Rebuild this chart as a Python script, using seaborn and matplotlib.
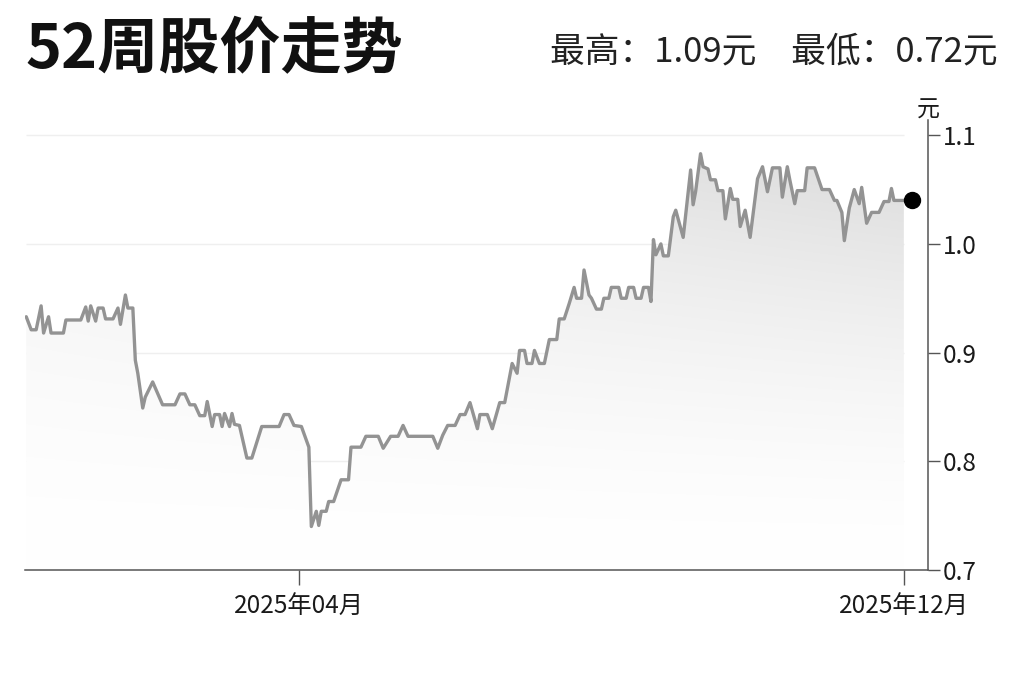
import matplotlib
matplotlib.use("Agg")
import matplotlib.pyplot as plt
import matplotlib.dates as mdates
from matplotlib.transforms import offset_copy
import numpy as np
import pandas as pd
import seaborn as sns

# turning points of the daily closing price
dates = [
    "2024-12-12", "2024-12-14", "2024-12-16", "2024-12-18", "2024-12-19", "2024-12-21",
    "2024-12-22", "2024-12-27", "2024-12-28", "2025-01-03", "2025-01-05", "2025-01-06",
    "2025-01-07", "2025-01-09", "2025-01-10", "2025-01-12", "2025-01-13", "2025-01-16",
    "2025-01-18", "2025-01-19", "2025-01-21", "2025-01-22", "2025-01-24", "2025-01-25",
    "2025-01-26", "2025-01-28", "2025-01-29", "2025-02-01", "2025-02-05", "2025-02-10",
    "2025-02-12", "2025-02-14", "2025-02-16", "2025-02-18", "2025-02-20", "2025-02-22",
    "2025-02-23", "2025-02-25", "2025-02-26", "2025-02-28", "2025-03-01", "2025-03-02",
    "2025-03-04", "2025-03-05", "2025-03-06", "2025-03-08", "2025-03-11", "2025-03-13",
    "2025-03-17", "2025-03-24", "2025-03-26", "2025-03-28", "2025-03-30", "2025-04-02",
    "2025-04-05", "2025-04-06", "2025-04-08", "2025-04-09", "2025-04-10", "2025-04-12",
    "2025-04-13", "2025-04-15", "2025-04-18", "2025-04-21", "2025-04-22", "2025-04-26",
    "2025-04-28", "2025-05-03", "2025-05-05", "2025-05-08", "2025-05-11", "2025-05-13",
    "2025-05-15", "2025-05-25", "2025-05-27", "2025-05-29", "2025-05-31", "2025-06-03",
    "2025-06-05", "2025-06-07", "2025-06-09", "2025-06-12", "2025-06-13", "2025-06-16",
    "2025-06-18", "2025-06-21", "2025-06-23", "2025-06-24", "2025-06-26", "2025-06-28",
    "2025-06-29", "2025-07-01", "2025-07-02", "2025-07-04", "2025-07-05", "2025-07-07",
    "2025-07-09", "2025-07-11", "2025-07-14", "2025-07-15", "2025-07-17", "2025-07-19",
    "2025-07-21", "2025-07-22", "2025-07-24", "2025-07-25", "2025-07-27", "2025-07-28",
    "2025-07-30", "2025-08-01", "2025-08-02", "2025-08-04", "2025-08-05", "2025-08-08",
    "2025-08-09", "2025-08-11", "2025-08-12", "2025-08-14", "2025-08-15", "2025-08-17",
    "2025-08-18", "2025-08-20", "2025-08-21", "2025-08-22", "2025-08-23", "2025-08-25",
    "2025-08-26", "2025-08-28", "2025-08-30", "2025-08-31", "2025-09-03", "2025-09-06",
    "2025-09-07", "2025-09-08", "2025-09-10", "2025-09-11", "2025-09-13", "2025-09-14",
    "2025-09-16", "2025-09-17", "2025-09-19", "2025-09-20", "2025-09-22", "2025-09-23",
    "2025-09-25", "2025-09-26", "2025-09-28", "2025-09-30", "2025-10-03", "2025-10-05",
    "2025-10-07", "2025-10-09", "2025-10-12", "2025-10-13", "2025-10-15", "2025-10-16",
    "2025-10-18", "2025-10-19", "2025-10-22", "2025-10-23", "2025-10-26", "2025-10-29",
    "2025-11-01", "2025-11-03", "2025-11-04", "2025-11-06", "2025-11-07", "2025-11-09",
    "2025-11-11", "2025-11-13", "2025-11-14", "2025-11-16", "2025-11-18", "2025-11-21",
    "2025-11-23", "2025-11-25", "2025-11-26", "2025-11-27", "2025-12-01",
]
prices = [
    0.933, 0.921, 0.921, 0.943, 0.918, 0.933,
    0.918, 0.918, 0.930, 0.930, 0.942, 0.929,
    0.943, 0.929, 0.941, 0.941, 0.931, 0.931,
    0.941, 0.926, 0.953, 0.941, 0.941, 0.893,
    0.881, 0.849, 0.859, 0.873, 0.852, 0.852,
    0.862, 0.862, 0.852, 0.852, 0.842, 0.842,
    0.855, 0.832, 0.843, 0.843, 0.832, 0.844,
    0.832, 0.844, 0.834, 0.833, 0.803, 0.803,
    0.832, 0.832, 0.843, 0.843, 0.833, 0.832,
    0.813, 0.740, 0.754, 0.741, 0.754, 0.754,
    0.763, 0.763, 0.783, 0.783, 0.813, 0.813,
    0.823, 0.823, 0.812, 0.823, 0.823, 0.833,
    0.823, 0.823, 0.812, 0.824, 0.833, 0.833,
    0.843, 0.843, 0.854, 0.830, 0.843, 0.843,
    0.830, 0.854, 0.854, 0.866, 0.890, 0.881,
    0.902, 0.902, 0.890, 0.890, 0.902, 0.890,
    0.890, 0.912, 0.912, 0.931, 0.931, 0.945,
    0.960, 0.950, 0.950, 0.976, 0.953, 0.950,
    0.940, 0.940, 0.950, 0.950, 0.960, 0.960,
    0.950, 0.950, 0.960, 0.960, 0.950, 0.950,
    0.960, 0.960, 0.947, 1.004, 0.990, 1.000,
    0.989, 0.989, 1.025, 1.031, 1.006, 1.068,
    1.036, 1.048, 1.083, 1.071, 1.069, 1.059,
    1.059, 1.049, 1.049, 1.023, 1.051, 1.041,
    1.041, 1.016, 1.031, 1.006, 1.060, 1.071,
    1.048, 1.070, 1.070, 1.043, 1.071, 1.059,
    1.037, 1.049, 1.049, 1.070, 1.070, 1.050,
    1.050, 1.040, 1.040, 1.029, 1.003, 1.033,
    1.050, 1.037, 1.052, 1.019, 1.029, 1.029,
    1.039, 1.039, 1.051, 1.040, 1.040,
]

y_ticks = [0.7, 0.8, 0.9, 1.0, 1.1]
x_ticks = ["2025-04-01", "2025-12-01"]
x_tick_labels = ["2025年04月", "2025年12月"]
title = "52周股价走势"
subtitle = "最高：1.09元　最低：0.72元"
unit = "元"

sns.set_theme(style="white")
plt.rcParams["font.family"] = ["Noto Sans CJK SC", "DejaVu Sans"]

df = pd.DataFrame({"date": pd.to_datetime(dates), "price": prices})

W, H = 1023, 682
fig = plt.figure(figsize=(W / 100, H / 100), dpi=100)
ax = fig.add_axes([25 / W, 112 / H, 903 / W, 450 / H])

sns.lineplot(data=df, x="date", y="price", ax=ax, color="#939393",
             linewidth=2.4, zorder=4)

# soft gray gradient under the line, fading out towards the bottom and the left
fill = ax.fill_between(df["date"], df["price"], y_ticks[0],
                       facecolor="none", edgecolor="none")
xa = mdates.date2num(df["date"].iloc[0])
xb = mdates.date2num(df["date"].iloc[-1])
ty = np.linspace(1, 0, 300)[:, None]
tx = np.linspace(0, 1, 300)[None, :]
shade = 1 - (36 / 255) * ty ** 1.6 * (0.45 + 0.55 * tx)
img = np.repeat(shade[..., None], 3, axis=2)
im = ax.imshow(img, extent=[xa, xb, y_ticks[0], df["price"].max()],
               aspect="auto", origin="upper", zorder=2, interpolation="bilinear")
im.set_clip_path(fill.get_paths()[0], transform=ax.transData)

# faint horizontal grid, only as wide as the data
ax.hlines(y_ticks[1:], df["date"].iloc[0], df["date"].iloc[-1],
          color="#efefef", linewidth=1, zorder=1)

ax.set_xlim(pd.Timestamp("2024-12-11 12:00"), pd.Timestamp("2025-12-10 18:00"))
ax.set_ylim(0.7, 1.114)

# last price marker
last = df.iloc[-1]
ax.plot(last["date"], last["price"], "o", color="black", markersize=11.5,
        transform=offset_copy(ax.transData, fig=fig, x=8, y=0, units="dots"),
        zorder=6, clip_on=False)

ax.yaxis.tick_right()
ax.set_yticks(y_ticks)
ax.set_yticklabels([f"{t:.1f}" for t in y_ticks])
ax.set_xticks(pd.to_datetime(x_ticks))
ax.set_xticklabels(x_tick_labels)
ax.set_xlabel("")
ax.set_ylabel("")

ax.tick_params(axis="y", which="major", right=True, left=False, direction="out",
               length=8.5, width=1, color="#555555", pad=2, labelsize=17.5,
               labelcolor="#1a1a1a")
ax.tick_params(axis="x", which="major", bottom=True, direction="out",
               length=11, width=1, color="#555555", pad=6, labelsize=17.5,
               labelcolor="#1a1a1a")

for side in ["left", "top"]:
    ax.spines[side].set_visible(False)
for side in ["right", "bottom"]:
    ax.spines[side].set_visible(True)
    ax.spines[side].set_color("#555555")
    ax.spines[side].set_linewidth(1.1)

fig.text(25 / W, 1 - 50 / H, title, fontsize=44, fontweight="bold",
         ha="left", va="center", color="#111111")
fig.text(998 / W, 1 - 52 / H, subtitle, fontsize=25, ha="right", va="center",
         color="#222222")
fig.text(928 / W, 1 - 110 / H, unit, fontsize=16.5, ha="center", va="center",
         color="#1a1a1a")

fig.savefig("out.png", dpi=100)
